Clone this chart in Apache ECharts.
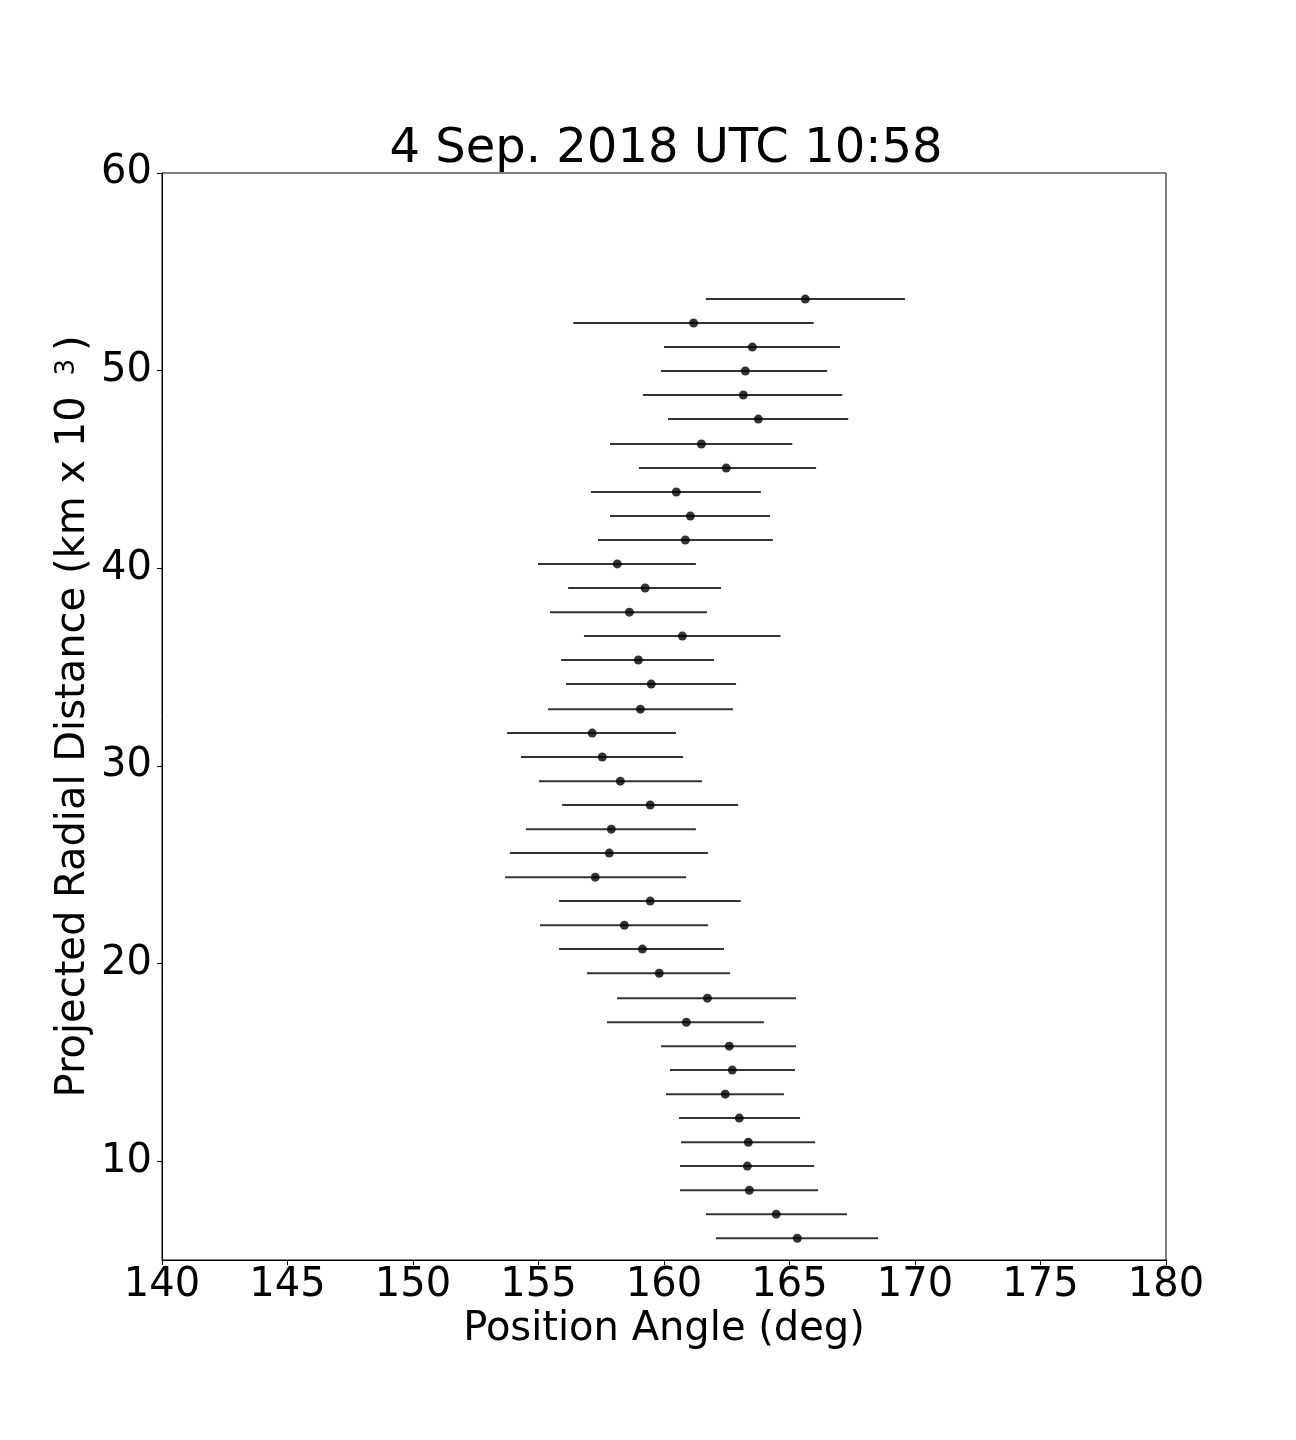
<!DOCTYPE html>
<html>
<head>
<meta charset="utf-8">
<script src="https://cdn.jsdelivr.net/npm/echarts@6/dist/echarts.min.js"></script>
<style>
  html, body { margin: 0; padding: 0; background: #fff; }
  #chart { width: 1296px; height: 1440px; }
</style>
</head>
<body>
<div id="chart"></div>
<script>
// radial distance (km x 10^3), top row first
var distance = [53.62, 52.41, 51.19, 49.98, 48.77, 47.55, 46.29, 45.07, 43.86, 42.64,
  41.43, 40.22, 39.00, 37.78, 36.57, 35.36, 34.14, 32.87, 31.66, 30.45,
  29.23, 28.02, 26.80, 25.59, 24.37, 23.16, 21.94, 20.73, 19.51, 18.25,
  17.03, 15.82, 14.61, 13.39, 12.18, 10.96, 9.75, 8.53, 7.32, 6.10];

// position angle (deg)
var angle = [165.63, 161.18, 163.52, 163.24, 163.16, 163.76, 161.49, 162.48, 160.49, 161.05,
  160.85, 158.14, 159.25, 158.62, 160.73, 158.98, 159.49, 159.06, 157.14, 157.54,
  158.26, 159.45, 157.90, 157.82, 157.26, 159.45, 158.42, 159.14, 159.81, 161.73,
  160.89, 162.60, 162.72, 162.44, 163.00, 163.36, 163.32, 163.40, 164.47, 165.31];

// error bar ends
var angleLow = [161.67, 156.39, 160.00, 159.88, 159.16, 160.16, 157.85, 159.00, 157.09, 157.85,
  157.37, 154.98, 156.18, 155.46, 156.81, 155.90, 156.10, 155.38, 153.75, 154.30,
  155.02, 155.94, 154.50, 153.86, 153.67, 155.82, 155.06, 155.82, 156.93, 158.13,
  157.73, 159.88, 160.24, 160.08, 160.60, 160.68, 160.64, 160.64, 161.67, 162.07];
var angleHigh = [169.60, 165.96, 167.01, 166.50, 167.10, 167.34, 165.11, 166.06, 163.86, 164.22,
  164.34, 161.27, 162.27, 161.71, 164.64, 161.99, 162.87, 162.75, 160.48, 160.76,
  161.51, 162.95, 161.27, 161.75, 160.88, 163.06, 161.75, 162.39, 162.63, 165.26,
  163.98, 165.26, 165.22, 164.78, 165.42, 166.02, 165.98, 166.14, 167.29, 168.53];

var xTicks = [140, 145, 150, 155, 160, 165, 170, 175, 180];
var yTicks = [10, 20, 30, 40, 50, 60];

var points = [];
var bars = [];
for (var i = 0; i < distance.length; i++) {
  points.push([angle[i], distance[i]]);
  bars.push([angleLow[i], angleHigh[i], distance[i]]);
}

var font = 'DejaVu Sans';
var myChart = echarts.init(document.getElementById('chart'));
myChart.setOption({
  animation: false,
  backgroundColor: '#fff',
  title: {
    text: '4 Sep. 2018 UTC 10:58',
    left: 661,
    textAlign: 'center',
    top: 121,
    textStyle: { fontFamily: font, fontSize: 48, fontWeight: 'normal', color: '#000' }
  },
  grid: {
    left: 162, right: 130, top: 173, bottom: 180,
    show: true, borderColor: '#000', borderWidth: 1, backgroundColor: 'transparent'
  },
  xAxis: {
    type: 'value',
    min: 140, max: 180, interval: 5,
    name: 'Position Angle (deg)',
    nameLocation: 'middle',
    nameGap: 50,
    nameMoveOverlap: false,
    nameTextStyle: { fontFamily: font, fontSize: 40, color: '#000' },
    axisLine: { show: true, onZero: false, lineStyle: { color: '#000', width: 1 } },
    axisTick: { show: true, inside: false, length: 5, customValues: xTicks, lineStyle: { color: '#000' } },
    axisLabel: { fontFamily: font, fontSize: 40, color: '#000', margin: 6, customValues: xTicks },
    splitLine: { show: false }
  },
  yAxis: {
    type: 'value',
    min: 5, max: 60, interval: 5,
    name: 'Projected Radial Distance (km x 10 {sup|3})',
    nameLocation: 'middle',
    nameGap: 68,
    nameMoveOverlap: false,
    nameTextStyle: {
      fontFamily: font, fontSize: 40, color: '#000',
      rich: {
        sup: { fontFamily: font, fontSize: 26, color: '#000', padding: [0, 8, 14, 8] }
      }
    },
    axisLine: { show: true, onZero: false, lineStyle: { color: '#000', width: 1 } },
    axisTick: { show: true, inside: false, length: 5, customValues: yTicks, lineStyle: { color: '#000' } },
    axisLabel: { fontFamily: font, fontSize: 40, color: '#000', margin: 10, customValues: yTicks },
    splitLine: { show: false }
  },
  series: [{
    name: 'error',
    type: 'custom',
    data: bars,
    encode: { x: [0, 1], y: 2 },
    renderItem: function (params, api) {
      var a = api.coord([api.value(0), api.value(2)]);
      var b = api.coord([api.value(1), api.value(2)]);
      return {
        type: 'line',
        shape: { x1: a[0], y1: a[1], x2: b[0], y2: b[1] },
        style: { stroke: '#333', lineWidth: 2 }
      };
    },
    z: 1
  }, {
    name: 'angle',
    type: 'scatter',
    data: points,
    symbol: 'circle',
    symbolSize: 9,
    itemStyle: { color: '#000' },
    z: 2
  }]
});
</script>
</body>
</html>
